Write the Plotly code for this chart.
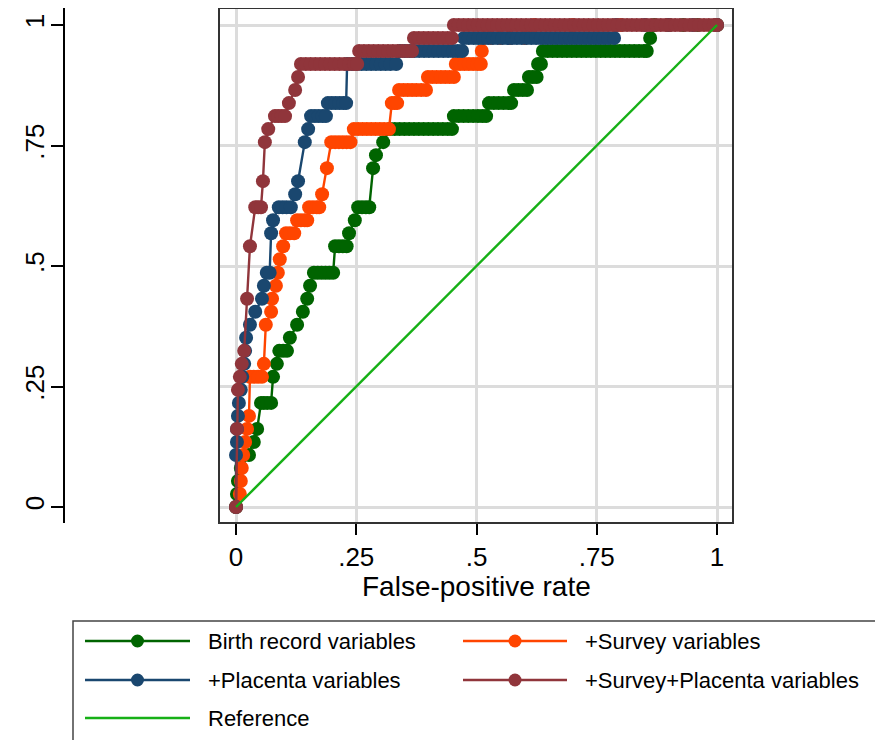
import plotly.graph_objects as go

# ---------------- data ----------------
x_tick_vals = [0, 0.25, 0.5, 0.75, 1]
x_tick_text = ["0", ".25", ".5", ".75", "1"]
y_tick_vals = [0, 0.25, 0.5, 0.75, 1]
y_tick_text = ["0", ".25", ".5", ".75", "1"]

series_names = ["Birth record variables", "+Survey variables",
                "+Placenta variables", "+Survey+Placenta variables", "Reference"]

# (false-positive rate, sensitivity) points of each ROC curve
green_roc = [
    (0.000, 0.000), (0.002, 0.027), (0.004, 0.054), (0.010, 0.081), (0.027, 0.108),
    (0.037, 0.135), (0.044, 0.162),
    (0.052, 0.216), (0.058, 0.216), (0.065, 0.216), (0.073, 0.216),
    (0.077, 0.270), (0.085, 0.297),
    (0.090, 0.324), (0.098, 0.324), (0.106, 0.324),
    (0.112, 0.351), (0.127, 0.378), (0.139, 0.405), (0.148, 0.432), (0.154, 0.459),
    (0.162, 0.486), (0.170, 0.486), (0.178, 0.486), (0.186, 0.486), (0.194, 0.486), (0.202, 0.486),
    (0.206, 0.541), (0.214, 0.541), (0.222, 0.541), (0.230, 0.541),
    (0.235, 0.568), (0.247, 0.595),
    (0.254, 0.622), (0.262, 0.622), (0.270, 0.622), (0.277, 0.622),
    (0.285, 0.703), (0.291, 0.730), (0.306, 0.757),
    (0.320, 0.784), (0.330, 0.784), (0.340, 0.784), (0.350, 0.784), (0.360, 0.784),
    (0.370, 0.784), (0.380, 0.784), (0.390, 0.784), (0.400, 0.784), (0.410, 0.784),
    (0.420, 0.784), (0.430, 0.784), (0.440, 0.784), (0.449, 0.784),
    (0.453, 0.811), (0.463, 0.811), (0.473, 0.811), (0.483, 0.811), (0.493, 0.811),
    (0.503, 0.811), (0.512, 0.811), (0.520, 0.811),
    (0.526, 0.838), (0.536, 0.838), (0.546, 0.838), (0.556, 0.838), (0.566, 0.838), (0.572, 0.838),
    (0.578, 0.865), (0.587, 0.865), (0.596, 0.865), (0.605, 0.865),
    (0.609, 0.892), (0.617, 0.892), (0.625, 0.892),
    (0.628, 0.919), (0.634, 0.919),
    (0.638, 0.946), (0.648, 0.946), (0.658, 0.946), (0.668, 0.946), (0.678, 0.946),
    (0.688, 0.946), (0.698, 0.946), (0.708, 0.946), (0.718, 0.946), (0.728, 0.946),
    (0.738, 0.946), (0.748, 0.946), (0.758, 0.946), (0.768, 0.946), (0.778, 0.946),
    (0.788, 0.946), (0.798, 0.946), (0.808, 0.946), (0.818, 0.946), (0.828, 0.946),
    (0.838, 0.946), (0.848, 0.946), (0.854, 0.946),
    (0.861, 0.973),
    (0.870, 1.000), (0.900, 1.000), (0.930, 1.000), (0.960, 1.000), (1.000, 1.000),
]

orange_roc = [
    (0.000, 0.000), (0.008, 0.027), (0.010, 0.054), (0.012, 0.081), (0.015, 0.108),
    (0.019, 0.135), (0.023, 0.162), (0.027, 0.189),
    (0.029, 0.270), (0.037, 0.270), (0.046, 0.270), (0.054, 0.270),
    (0.058, 0.297), (0.062, 0.378), (0.073, 0.405), (0.075, 0.432), (0.083, 0.459),
    (0.087, 0.486), (0.091, 0.514), (0.098, 0.541),
    (0.104, 0.568), (0.112, 0.568), (0.121, 0.568),
    (0.127, 0.595), (0.135, 0.595), (0.143, 0.595), (0.148, 0.595),
    (0.152, 0.622), (0.160, 0.622), (0.168, 0.622), (0.173, 0.622),
    (0.179, 0.649), (0.189, 0.703),
    (0.198, 0.757), (0.206, 0.757), (0.214, 0.757), (0.222, 0.757), (0.230, 0.757), (0.238, 0.757),
    (0.245, 0.784), (0.254, 0.784), (0.263, 0.784), (0.272, 0.784), (0.281, 0.784),
    (0.290, 0.784), (0.299, 0.784), (0.308, 0.784), (0.318, 0.784),
    (0.324, 0.838), (0.330, 0.838), (0.335, 0.838),
    (0.339, 0.865), (0.348, 0.865), (0.357, 0.865), (0.366, 0.865), (0.375, 0.865),
    (0.385, 0.865), (0.395, 0.865),
    (0.399, 0.892), (0.408, 0.892), (0.417, 0.892), (0.426, 0.892), (0.435, 0.892),
    (0.444, 0.892), (0.453, 0.892),
    (0.457, 0.919), (0.466, 0.919), (0.475, 0.919), (0.484, 0.919), (0.493, 0.919),
    (0.502, 0.919), (0.509, 0.919),
    (0.511, 0.946),
    (0.515, 0.973), (0.530, 0.973), (0.550, 0.973), (0.570, 0.973), (0.600, 0.973),
    (0.620, 1.000), (0.700, 1.000), (0.800, 1.000), (0.900, 1.000), (1.000, 1.000),
]

blue_roc = [
    (0.000, 0.000), (0.000, 0.108), (0.002, 0.135), (0.002, 0.162),
    (0.004, 0.189), (0.006, 0.216), (0.010, 0.243), (0.013, 0.270), (0.017, 0.297),
    (0.019, 0.324), (0.021, 0.351), (0.029, 0.378), (0.040, 0.405), (0.054, 0.432),
    (0.058, 0.459),
    (0.064, 0.486), (0.070, 0.486),
    (0.073, 0.568), (0.077, 0.595),
    (0.089, 0.622), (0.097, 0.622), (0.105, 0.622), (0.114, 0.622),
    (0.123, 0.649), (0.129, 0.676),
    (0.143, 0.757), (0.150, 0.784),
    (0.156, 0.811), (0.164, 0.811), (0.172, 0.811), (0.180, 0.811), (0.187, 0.811),
    (0.191, 0.838), (0.199, 0.838), (0.207, 0.838), (0.215, 0.838), (0.223, 0.838), (0.229, 0.838),
    (0.231, 0.919), (0.241, 0.919), (0.251, 0.919), (0.261, 0.919), (0.271, 0.919),
    (0.281, 0.919), (0.291, 0.919), (0.301, 0.919), (0.311, 0.919), (0.321, 0.919), (0.333, 0.919),
    (0.341, 0.946), (0.351, 0.946), (0.361, 0.946), (0.371, 0.946), (0.381, 0.946),
    (0.391, 0.946), (0.401, 0.946), (0.411, 0.946), (0.421, 0.946), (0.431, 0.946),
    (0.441, 0.946), (0.451, 0.946), (0.461, 0.946), (0.470, 0.946),
    (0.474, 0.973), (0.484, 0.973), (0.494, 0.973), (0.504, 0.973), (0.514, 0.973),
    (0.524, 0.973), (0.534, 0.973), (0.544, 0.973), (0.554, 0.973), (0.564, 0.973),
    (0.574, 0.973), (0.584, 0.973), (0.594, 0.973), (0.604, 0.973), (0.614, 0.973),
    (0.624, 0.973), (0.634, 0.973), (0.644, 0.973), (0.654, 0.973), (0.664, 0.973),
    (0.674, 0.973), (0.684, 0.973), (0.694, 0.973), (0.704, 0.973), (0.714, 0.973),
    (0.724, 0.973), (0.734, 0.973), (0.744, 0.973), (0.754, 0.973), (0.764, 0.973),
    (0.774, 0.973), (0.786, 0.973),
    (0.790, 1.000), (0.850, 1.000), (0.900, 1.000), (0.950, 1.000), (1.000, 1.000),
]

maroon_roc = [
    (0.000, 0.000), (0.002, 0.162), (0.004, 0.243), (0.008, 0.270), (0.012, 0.297),
    (0.017, 0.324), (0.023, 0.432), (0.029, 0.541),
    (0.040, 0.622), (0.046, 0.622), (0.052, 0.622),
    (0.056, 0.676), (0.060, 0.757), (0.067, 0.784),
    (0.081, 0.811), (0.088, 0.811), (0.095, 0.811), (0.102, 0.811),
    (0.110, 0.838), (0.123, 0.865), (0.129, 0.892),
    (0.135, 0.919), (0.145, 0.919), (0.155, 0.919), (0.165, 0.919), (0.175, 0.919),
    (0.185, 0.919), (0.195, 0.919), (0.205, 0.919), (0.215, 0.919), (0.225, 0.919),
    (0.235, 0.919), (0.245, 0.919), (0.252, 0.919),
    (0.256, 0.946), (0.266, 0.946), (0.276, 0.946), (0.286, 0.946), (0.296, 0.946),
    (0.306, 0.946), (0.316, 0.946), (0.326, 0.946), (0.336, 0.946), (0.346, 0.946),
    (0.356, 0.946), (0.366, 0.946),
    (0.370, 0.973), (0.380, 0.973), (0.390, 0.973), (0.400, 0.973), (0.410, 0.973),
    (0.420, 0.973), (0.430, 0.973), (0.440, 0.973), (0.449, 0.973),
    (0.453, 1.000), (0.463, 1.000), (0.473, 1.000), (0.483, 1.000), (0.493, 1.000),
    (0.503, 1.000), (0.513, 1.000), (0.523, 1.000), (0.533, 1.000), (0.543, 1.000),
    (0.553, 1.000), (0.563, 1.000), (0.573, 1.000), (0.583, 1.000), (0.593, 1.000),
    (0.603, 1.000), (0.613, 1.000), (0.623, 1.000), (0.633, 1.000), (0.643, 1.000),
    (0.653, 1.000), (0.663, 1.000), (0.673, 1.000), (0.683, 1.000), (0.693, 1.000),
    (0.703, 1.000), (0.713, 1.000), (0.723, 1.000), (0.733, 1.000), (0.743, 1.000),
    (0.753, 1.000), (0.763, 1.000), (0.773, 1.000), (0.783, 1.000), (0.793, 1.000),
    (0.803, 1.000), (0.813, 1.000), (0.823, 1.000), (0.833, 1.000), (0.843, 1.000),
    (0.853, 1.000), (0.863, 1.000), (0.873, 1.000), (0.883, 1.000), (0.893, 1.000),
    (0.903, 1.000), (0.913, 1.000), (0.923, 1.000), (0.933, 1.000), (0.943, 1.000),
    (0.953, 1.000), (0.963, 1.000), (0.973, 1.000), (0.983, 1.000), (0.993, 1.000),
    (1.000, 1.000),
]

reference_fpr = [0, 1]
reference_tpr = [0, 1]

# ---------------- styling ----------------
W, H = 883, 740
OFF = 8  # the page body margin shifts the figure by this many pixels
FONT = "Liberation Sans, Arial, Helvetica, sans-serif"
C_GREEN = "#006400"
C_ORANGE = "#ff4500"
C_BLUE = "#1a476f"
C_MAROON = "#90353b"
C_REF = "#16b016"
GRID = "#dcdcdc"


def fx(p):
    return (p - OFF) / W


def fy(p):
    return 1 - (p - OFF) / H


fig = go.Figure()
for name, pts, col in [(series_names[0], green_roc, C_GREEN),
                       (series_names[1], orange_roc, C_ORANGE),
                       (series_names[2], blue_roc, C_BLUE),
                       (series_names[3], maroon_roc, C_MAROON)]:
    fig.add_trace(go.Scatter(
        x=[p[0] for p in pts], y=[p[1] for p in pts], name=name,
        mode="lines+markers",
        line=dict(color=col, width=2.4),
        marker=dict(size=14, color=col, line=dict(width=0)),
        showlegend=False, hoverinfo="skip"))

fig.add_trace(go.Scatter(
    x=reference_fpr, y=reference_tpr, name=series_names[4], mode="lines",
    line=dict(color=C_REF, width=2.4), showlegend=False, hoverinfo="skip"))

# plot frame
shapes = [dict(type="rect", xref="paper", yref="paper",
               x0=fx(219), x1=fx(733), y0=fy(523), y1=fy(8),
               line=dict(color="#333333", width=2), layer="above")]

# custom legend
shapes.append(dict(type="rect", xref="paper", yref="paper",
                   x0=fx(73), x1=fx(881), y0=fy(760), y1=fy(621),
                   line=dict(color="#444444", width=1.5)))
annotations = []
legend_items = [
    (series_names[0], C_GREEN, True, 85, 190, 641),
    (series_names[1], C_ORANGE, True, 463, 567, 641),
    (series_names[2], C_BLUE, True, 85, 190, 680),
    (series_names[3], C_MAROON, True, 463, 567, 680),
    (series_names[4], C_REF, False, 85, 190, 718),
]
for text, col, has_marker, lx0, lx1, ly in legend_items:
    shapes.append(dict(type="line", xref="paper", yref="paper",
                       x0=fx(lx0), x1=fx(lx1), y0=fy(ly), y1=fy(ly),
                       line=dict(color=col, width=2.6)))
    if has_marker:
        cx = (lx0 + lx1) / 2
        shapes.append(dict(type="circle", xref="paper", yref="paper",
                           x0=fx(cx - 6.5), x1=fx(cx + 6.5),
                           y0=fy(ly + 6.5), y1=fy(ly - 6.5),
                           fillcolor=col, line=dict(color=col, width=0)))
    annotations.append(dict(x=fx(lx1 + 16), y=fy(ly), xref="paper", yref="paper",
                            text=text, showarrow=False, xanchor="left",
                            yanchor="middle",
                            font=dict(family=FONT, size=22, color="black")))

annotations.append(dict(x=0.5, xref="x", y=fy(586), yref="paper",
                        text="False-positive rate", showarrow=False,
                        xanchor="center", yanchor="middle",
                        font=dict(family=FONT, size=28, color="black")))

fig.update_layout(
    width=W, height=H,
    margin=dict(l=0, r=0, t=0, b=0, pad=0),
    paper_bgcolor="white", plot_bgcolor="white",
    font=dict(family=FONT, color="black"),
    showlegend=False,
    shapes=shapes,
    annotations=annotations,
    xaxis=dict(domain=[fx(219), fx(733)], range=[-17 / 481, 497 / 481],
               tickvals=x_tick_vals, ticktext=x_tick_text,
               ticks="outside", ticklen=11, tickwidth=1.5, tickcolor="black",
               showgrid=True, gridcolor=GRID, gridwidth=2.5,
               zeroline=False, showline=False, automargin=False,
               tickfont=dict(family=FONT, size=26, color="black")),
    yaxis=dict(domain=[fy(523), fy(8)], range=[-16 / 482, 1 + 17 / 482],
               anchor="free", position=fx(64), side="left",
               tickvals=y_tick_vals, ticktext=y_tick_text, tickangle=-90,
               ticks="outside", ticklen=12, tickwidth=1.5, tickcolor="black",
               ticklabelstandoff=-3,
               showline=True, linecolor="black", linewidth=1.5,
               showgrid=True, gridcolor=GRID, gridwidth=2.5,
               zeroline=False, automargin=False,
               tickfont=dict(family=FONT, size=26, color="black")),
)

fig.write_html("out.html")
